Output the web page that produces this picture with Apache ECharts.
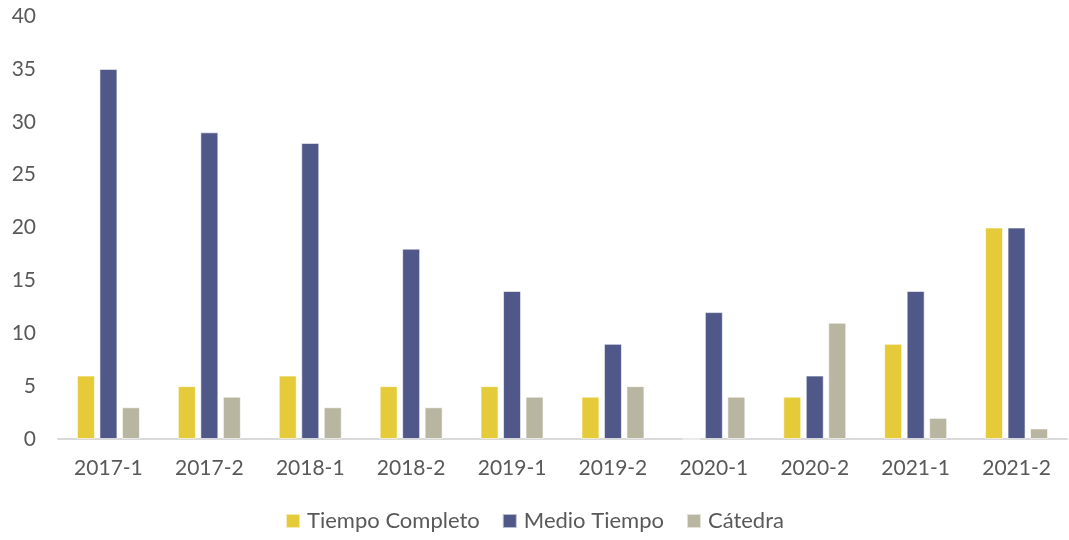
<!DOCTYPE html>
<html><head><meta charset="utf-8">
<script src="https://cdn.jsdelivr.net/npm/echarts@6/dist/echarts.min.js"></script>
<style>html,body{margin:0;padding:0;background:#fff}#c{width:1069px;height:540px}</style>
</head><body><div id="c"></div>
<script>
const categories = ['2017-1','2017-2','2018-1','2018-2','2019-1','2019-2','2020-1','2020-2','2021-1','2021-2'];
const tiempoCompleto = [6,5,6,5,5,4,0,4,9,20];
const medioTiempo = [35,29,28,18,14,9,12,6,14,20];
const catedra = [3,4,3,3,4,5,4,11,2,1];
const seriesNames = ['Tiempo Completo','Medio Tiempo','Cátedra'];
const colors = ['#E5CB3A','#4F5889','#B8B5A1'];
const font = 'Lato, "Open Sans", sans-serif';
const chart = echarts.init(document.getElementById('c'));
const mk = (name, data, color) => ({
  name, type:'bar', data, barWidth:18, barGap:'25%',
  itemStyle:{color, borderColor:'rgba(255,255,255,0.6)', borderWidth:1}
});
chart.setOption({
  animation:false,
  color: colors,
  grid:{left:58, right:2, top:16, bottom:101},
  legend:{bottom:3, left:'center', itemWidth:14, itemHeight:14, itemGap:22,
    icon:'rect', textStyle:{color:'#595959', fontSize:22, fontFamily:font, padding:[0,0,0,2]}},
  xAxis:{type:'category', data:categories,
    axisLine:{lineStyle:{color:'#D9D9D9', width:2}}, axisTick:{show:false},
    axisLabel:{color:'#595959', fontSize:21, fontFamily:font, margin:19}},
  yAxis:{type:'value', min:0, max:40, interval:5,
    splitLine:{show:false}, axisLine:{show:false}, axisTick:{show:false},
    axisLabel:{color:'#595959', fontSize:21, fontFamily:font, margin:22}},
  series:[mk(seriesNames[0], tiempoCompleto, colors[0]), mk(seriesNames[1], medioTiempo, colors[1]), mk(seriesNames[2], catedra, colors[2])]
});
</script></body></html>
